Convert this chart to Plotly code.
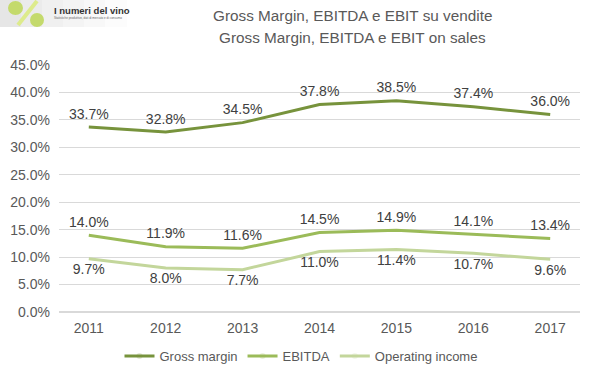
import plotly.graph_objects as go

years = ["2011", "2012", "2013", "2014", "2015", "2016", "2017"]
gross_margin = [33.7, 32.8, 34.5, 37.8, 38.5, 37.4, 36.0]
ebitda = [14.0, 11.9, 11.6, 14.5, 14.9, 14.1, 13.4]
operating_income = [9.7, 8.0, 7.7, 11.0, 11.4, 10.7, 9.6]
y_ticks = [0, 5, 10, 15, 20, 25, 30, 35, 40, 45]

FONT = "Liberation Sans"
TXT = "#595959"

W, H = 599, 378
PL, PR, PT, PB = 59, 580, 65, 312  # plot area in pixels


def px(sx):
    return (sx - PL) / (PR - PL)


def py(sy):
    return (PB - sy) / (PB - PT)


fig = go.Figure()
series = [
    ("Gross margin", gross_margin, "#77933C", "top center"),
    ("EBITDA", ebitda, "#9BBB59", "top center"),
    ("Operating income", operating_income, "#C3D69B", "bottom center"),
]
for name, vals, col, pos in series:
    fig.add_trace(go.Scatter(
        x=years, y=vals, name=name, mode="lines+markers+text",
        line=dict(color=col, width=3),
        marker=dict(size=6, opacity=0, color=col),
        text=[f"{v:.1f}%" for v in vals], textposition=pos,
        textfont=dict(family=FONT, size=14, color="#404040"),
        cliponaxis=False, hoverinfo="x+y",
    ))

fig.update_layout(
    width=W, height=H,
    margin=dict(l=PL, r=W - PR, t=PT, b=H - PB, autoexpand=False),
    paper_bgcolor="white", plot_bgcolor="white",
    font=dict(family=FONT, color=TXT, size=14),
    showlegend=True,
    legend=dict(orientation="h", x=px(301), xanchor="center", y=py(356), yanchor="middle",
                font=dict(family=FONT, size=13, color=TXT), itemwidth=30,
                tracegroupgap=0),
    xaxis=dict(type="category", showgrid=False, showline=False, ticks="",
               tickfont=dict(family=FONT, size=14, color=TXT), automargin=False,
               ticklabelstandoff=6),
    yaxis=dict(range=[0, 45], tickvals=y_ticks,
               ticktext=[f"{v:.1f}%" for v in y_ticks],
               showgrid=True, gridcolor="#D9D9D9", gridwidth=1,
               zeroline=True, zerolinecolor="#D9D9D9", showline=False, ticks="",
               tickfont=dict(family=FONT, size=14, color=TXT), automargin=False,
               ticklabelstandoff=8),
)

# title as two centred lines
for txt, sy in [("Gross Margin, EBITDA e EBIT su vendite", 15),
                ("Gross Margin, EBITDA e EBIT on sales", 37)]:
    fig.add_annotation(text=txt, xref="paper", yref="paper", x=px(352), y=py(sy),
                       xanchor="center", yanchor="middle", showarrow=False,
                       font=dict(family=FONT, size=15.3, color=TXT))

# logo area (drawn with shapes and text), gray-to-white band
band = ["#E6E6E6", "#EBEBEB", "#F0F0F0", "#F4F4F4", "#F8F8F8", "#FCFCFC"]
for i, c in enumerate(band):
    fig.add_shape(type="rect", xref="paper", yref="paper", x0=px(i * 21), x1=px(i * 21 + 22),
                  y0=py(27), y1=py(0), fillcolor=c, line=dict(width=0), layer="below")
fig.add_shape(type="line", xref="paper", yref="paper",
              x0=px(18), x1=px(37), y0=py(25), y1=py(1),
              line=dict(color="#DDEB8C", width=4))
fig.add_shape(type="circle", xref="paper", yref="paper",
              x0=px(8), x1=px(23), y0=py(15), y1=py(1),
              fillcolor="#C4DA6C", line=dict(width=0))
fig.add_shape(type="circle", xref="paper", yref="paper",
              x0=px(30), x1=px(44), y0=py(27), y1=py(13),
              fillcolor="#C4DA6C", line=dict(width=0))
fig.add_annotation(text="<b>I numeri del vino</b>", xref="paper", yref="paper",
                   x=px(52), y=py(10), xanchor="left", yanchor="middle",
                   showarrow=False, font=dict(family=FONT, size=9.5, color="#333333"))
fig.add_annotation(text="Statistiche produttive, dati di mercato e di consumo", xref="paper", yref="paper",
                   x=px(52), y=py(18), xanchor="left", yanchor="middle",
                   showarrow=False, font=dict(family=FONT, size=3, color="#666666"))

# remove the default 8px body margin so the figure sits at the window's corner
fig.write_html("out.html", config={"displayModeBar": False},
               post_script="document.body.style.margin='0';")
